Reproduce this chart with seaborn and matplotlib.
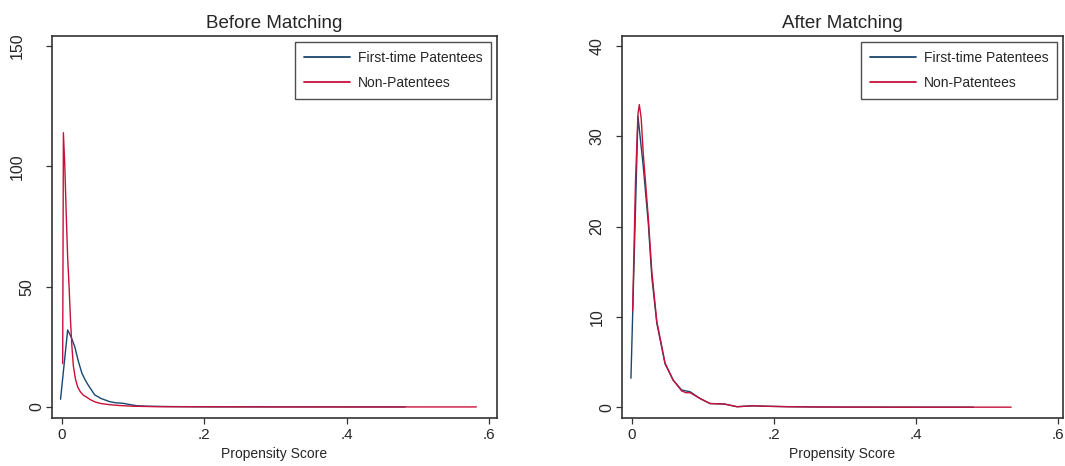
import numpy as np
import pandas as pd
import seaborn as sns
import matplotlib.pyplot as plt
from matplotlib.transforms import ScaledTranslation

# before matching - kernel density of propensity score
before_first_x = [-0.002, 0.008, 0.013, 0.018, 0.023, 0.028, 0.033, 0.037, 0.042, 0.046, 0.055,
                  0.067, 0.076, 0.086, 0.095, 0.105, 0.12, 0.15, 0.2, 0.3, 0.4, 0.482]
before_first_y = [3.2, 32, 29, 25, 19, 14, 11, 9, 6.8, 5, 3.5,
                  2.2, 1.7, 1.5, 1.0, 0.5, 0.3, 0.15, 0.05, 0.02, 0.01, 0.0]
before_non_x = [0.001, 0.002, 0.004, 0.006, 0.008, 0.010, 0.012, 0.014, 0.016, 0.019, 0.022, 0.026,
                0.030, 0.035, 0.040, 0.047, 0.055, 0.065, 0.080, 0.10, 0.13, 0.2, 0.3, 0.4, 0.5, 0.582]
before_non_y = [18, 114, 100, 80, 62, 50, 36, 25, 17, 11.5, 8.3, 6.2,
                4.9, 4.0, 3.0, 2.0, 1.4, 1.0, 0.6, 0.3, 0.12, 0.05, 0.02, 0.01, 0.0, 0.0]

# after matching
after_first_x = [-0.0014, 0.0085, 0.016, 0.023, 0.028, 0.035, 0.0466, 0.058, 0.070, 0.082, 0.096,
                 0.110, 0.13, 0.148, 0.17, 0.19, 0.22, 0.26, 0.3, 0.4, 0.481]
after_first_y = [3.2, 32.2, 26.6, 20.4, 14.4, 9.3, 4.8, 3.0, 1.9, 1.7, 0.96,
                 0.4, 0.35, 0.05, 0.15, 0.1, 0.05, 0.02, 0.01, 0.0, 0.0]
after_non_x = [0.001, 0.005, 0.0085, 0.0104, 0.013, 0.016, 0.023, 0.028, 0.035, 0.0466, 0.058, 0.070,
               0.076, 0.082, 0.096, 0.110, 0.13, 0.148, 0.17, 0.19, 0.22, 0.26, 0.3, 0.4, 0.534]
after_non_y = [10.7, 25, 32.5, 33.5, 32, 28, 21, 15, 9.5, 4.9, 3.0, 1.8,
               1.6, 1.6, 0.95, 0.4, 0.35, 0.05, 0.15, 0.1, 0.05, 0.02, 0.01, 0.0, 0.0]

groups = ['First-time Patentees', 'Non-Patentees']
colors = ['#1a476f', '#c8103a']
x_ticks = [0, 0.2, 0.4, 0.6]
x_tick_labels = ['0', '.2', '.4', '.6']

sns.set_style('white')
plt.rcParams['font.family'] = ['Liberation Sans Narrow', 'Liberation Sans', 'DejaVu Sans']


def make_df(fx, fy, nx, ny):
    d1 = pd.DataFrame({'score': fx, 'density': fy, 'group': groups[0]})
    d2 = pd.DataFrame({'score': nx, 'density': ny, 'group': groups[1]})
    return pd.concat([d1, d2], ignore_index=True)


fig = plt.figure(figsize=(10.65, 4.66), dpi=100)
W, H = 1065, 466
ax1 = fig.add_axes([52 / W, 48 / H, 445 / W, 382 / H])
ax2 = fig.add_axes([622 / W, 48 / H, 441 / W, 382 / H])

panels = [
    (ax1, make_df(before_first_x, before_first_y, before_non_x, before_non_y),
     'Before Matching', [0, 50, 100, 150], (-4.6, 154.2), (-0.014, 0.611)),
    (ax2, make_df(after_first_x, after_first_y, after_non_x, after_non_y),
     'After Matching', [0, 10, 20, 30, 40], (-1.2, 41.1), (-0.014, 0.607)),
]

for ax, df, title, yt, ylim, xlim in panels:
    sns.lineplot(data=df, x='score', y='density', hue='group', palette=colors,
                 estimator=None, sort=False, linewidth=1.0, ax=ax)
    ax.set_xlim(*xlim)
    ax.set_ylim(*ylim)
    ax.set_xticks(x_ticks)
    ax.set_xticklabels(x_tick_labels)
    ax.set_yticks(yt)
    ax.set_yticklabels([str(v) for v in yt], rotation=90, va='center', ha='center',
                       family=['Liberation Sans', 'DejaVu Sans'])
    ax.tick_params(axis='both', direction='out', length=4, width=0.9, color='#333333',
                   labelsize=11, bottom=True, left=True)
    ax.tick_params(axis='x', pad=3)
    ax.tick_params(axis='y', pad=0, labelsize=11.5)
    # stata-style vertical labels: longer labels sit further from the axis
    for lab in ax.get_yticklabels():
        n = len(lab.get_text())
        dx = (5 + 10 * n - 5.6) / 100.0
        lab.set_transform(lab.get_transform() + ScaledTranslation(-dx, 0, fig.dpi_scale_trans))
    ax.set_title(title, fontsize=13.5, pad=6)
    ax.set_xlabel('Propensity Score', fontsize=10, labelpad=4)
    ax.set_ylabel('')
    for s in ax.spines.values():
        s.set_color('#333333')
        s.set_linewidth(1.2)
    sns.move_legend(ax, 'upper right', title=None, frameon=True, fontsize=10,
                    handlelength=3.3, handletextpad=0.55, labelspacing=0.8,
                    borderpad=0.65, borderaxespad=0.4, fancybox=False)
    leg = ax.get_legend()
    leg.get_frame().set_edgecolor('#222222')
    leg.get_frame().set_linewidth(1.0)
    for ln in leg.get_lines():
        ln.set_linewidth(1.3)

fig.savefig('out.png', dpi=100)
